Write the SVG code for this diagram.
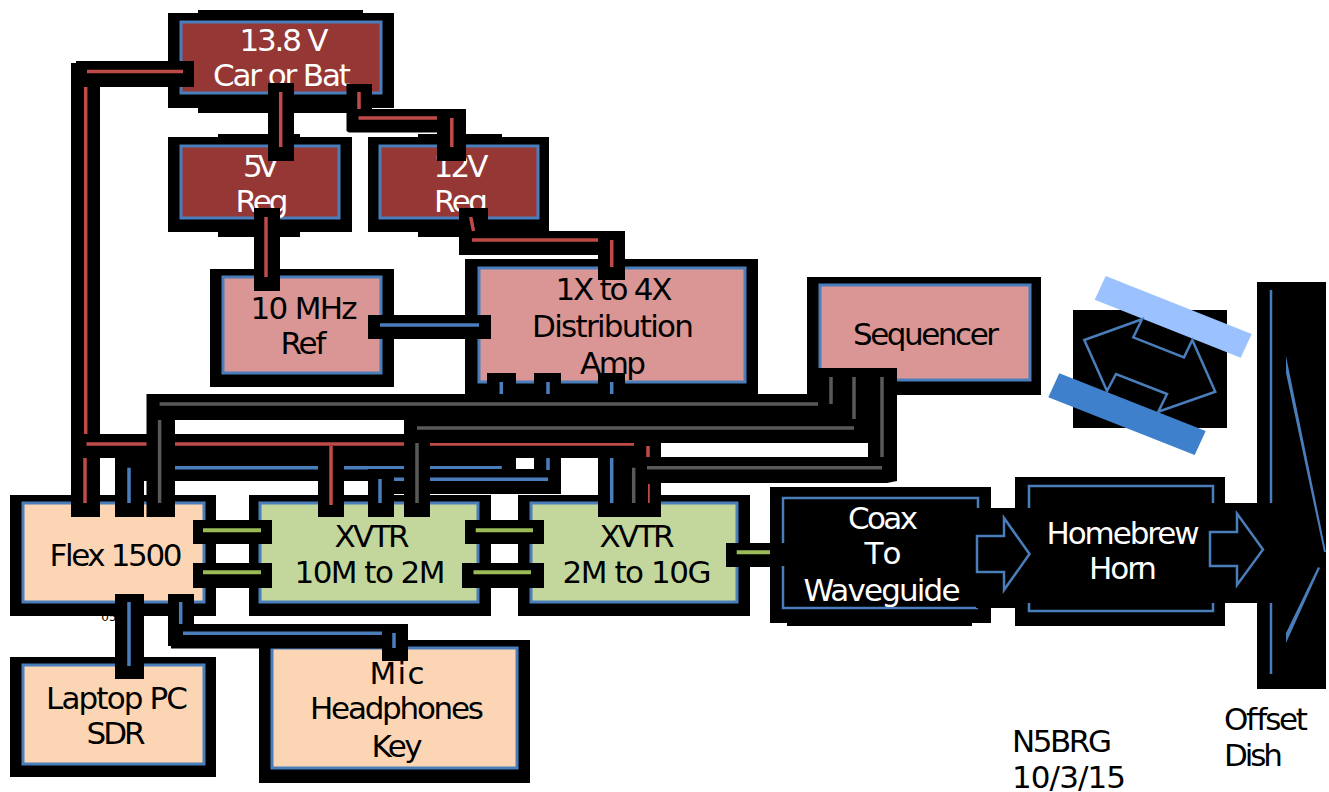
<svg xmlns="http://www.w3.org/2000/svg" width="1329" height="792" viewBox="0 0 1329 792">
<style>
text{font-family:"DejaVu Sans","Liberation Sans",sans-serif;font-size:31px;text-anchor:middle;fill:#000}
.w{fill:#fff}
.l{text-anchor:start}
.tiny{font-size:12px}
.box{stroke:#4a7ebb;stroke-width:3}
.red{fill:#953735}.pink{fill:#d99694}.peach{fill:#fcd5b5}.green{fill:#c3d69b}
.k{fill:#000}
.cr,.cb,.cg,.cy{fill:none;stroke-width:3.500}
.cr{stroke:#be4b48}.cb{stroke:#4a7ebb}.cg{stroke:#595959}.cy{stroke:#9bbb59;stroke-width:4}
.o{fill:none;stroke:#4a7ebb;stroke-width:2.500}
.f{fill:#4a7ebb}
</style>
<rect width="1329" height="792" fill="#fff"/>
<text class="tiny" x="109" y="621">05</text>
<g id="node-13v8"><rect class="k" x="168" y="13" width="226" height="95"/><rect class="k" x="198" y="10" width="165" height="103"/><rect class="box red" x="181" y="22" width="200" height="71"/><text class="w" x="284" y="51" textLength="89">13.8 V</text><text class="w" x="282" y="85.500" textLength="138">Car or Bat</text></g>
<g id="node-5v"><rect class="k" x="168" y="137" width="184" height="95"/><rect class="k" x="218" y="134" width="82" height="103"/><rect class="box red" x="181" y="146" width="158" height="72"/><text class="w" x="261" y="176.500" textLength="36">5V</text><text class="w" x="262" y="211.500" textLength="53">Reg</text></g>
<g id="node-12v"><rect class="k" x="368" y="137" width="181" height="95"/><rect class="k" x="418" y="134" width="84" height="103"/><rect class="box red" x="380" y="146" width="158" height="72"/><text class="w" x="461" y="176.500" textLength="55">12V</text><text class="w" x="461" y="211.500" textLength="54">Reg</text></g>
<g id="node-10mhz"><rect class="k" x="210" y="269" width="184" height="118"/><rect class="box pink" x="223" y="277" width="158" height="96"/><text x="304" y="318.500" textLength="107">10 MHz</text><text x="303.500" y="353.500" textLength="46">Ref</text></g>
<g id="node-dist"><rect class="k" x="465" y="259" width="293" height="135"/><rect class="box pink" x="479" y="268" width="266" height="114"/><text x="614" y="299.500" textLength="117">1X to 4X</text><text x="613" y="336.500" textLength="162">Distribution</text><text x="613" y="373.500" textLength="66">Amp</text></g>
<g id="node-seq"><rect class="k" x="807" y="277" width="234" height="118"/><rect class="box pink" x="820" y="285" width="210" height="95"/><text x="926" y="344.500" textLength="146">Sequencer</text></g>
<g id="node-flex"><rect class="k" x="10" y="495" width="206" height="121"/><rect class="box peach" x="23" y="503" width="181" height="99"/><text x="116" y="565.500" textLength="133">Flex 1500</text></g>
<g id="node-xvtr1"><rect class="k" x="249" y="495" width="242" height="121"/><rect class="box green" x="260" y="503" width="218" height="99"/><text x="372" y="546.500" textLength="75">XVTR</text><text x="370" y="582.500" textLength="151">10M to 2M</text></g>
<g id="node-xvtr2"><rect class="k" x="518" y="495" width="232" height="121"/><rect class="box green" x="531" y="503" width="206" height="99"/><text x="637" y="546.500" textLength="75">XVTR</text><text x="637" y="582.500" textLength="149">2M to 10G</text></g>
<g id="node-laptop"><rect class="k" x="10" y="657" width="206" height="120"/><rect class="box peach" x="23" y="665" width="181" height="99"/><text x="117" y="708.500" textLength="142">Laptop PC</text><text x="116" y="743.500" textLength="59">SDR</text></g>
<g id="node-mic"><rect class="k" x="259" y="640" width="271" height="143"/><rect class="box peach" x="272" y="648" width="245" height="120"/><text x="397" y="683.500" textLength="55">Mic</text><text x="397" y="719" textLength="174">Headphones</text><text x="397" y="757" textLength="51">Key</text></g>
<g id="connectors">
<path class="k" d="M76,61H194V87H100V517H71V63H76Z"/>
<path class="cr" d="M87,71.500H183M85.700,87V434M85,458V503"/>
<path class="k" d="M268,83H294V161H268Z"/><path class="cr" d="M280.700,92V147"/>
<path class="k" d="M346.500,84H372V109H466V161H437V132.500H349L346.500,131Z"/><path class="cr" d="M359,92V109M358.500,118H437M451.800,118V147"/>
<path class="k" d="M254,208H280V291H254Z"/><path class="cr" d="M266,217V277"/>
<path class="k" d="M459,208H488V231H625V280H598V255H459Z"/><path class="cr" d="M470.700,217L473.500,231M472,240H598M611.700,240V267"/>
<path class="k" d="M368,315H491V339H368Z"/><path class="cb" d="M380,325H479"/>
<path class="k" d="M487,373H516V481H144V517H115V458H487Z"/><path class="cb" d="M501.300,382V394M175,467.700H501.800M129,467.700V503"/>
<path class="k" d="M534,373H561V494H394V517H368V469H534Z"/><path class="cb" d="M548,382V394M548,458V470M394,479.300H548M380,479V503"/>
<path class="k" d="M598,373H625V517H598Z"/><path class="cb" d="M611.700,382V394M611.700,458V503"/>
<path class="k" d="M71,434H661V517H634V458H344V517H318V458H100V434Z"/><path class="cr" d="M86.500,444H634M331,446V505M648,446V457M648,484V503"/>
<path class="k" d="M146.500,394H807V368H897V481L887,483H648V517H620V457H868V443H430V517H404V420H175V517H146.500Z"/>
<path class="cg" d="M159.600,404H818M159.600,420V503M831,377V404M417,428H854M854,377V419M417,443V503M882,377V457M647,467.700H882M633.700,467.700V503"/>
<path class="k" d="M193,520H272V544H193ZM193,563H272V588H193ZM465,520H544V544H465ZM462,563H544V588H462ZM726,543H785V567H726Z"/>
<path class="cy" d="M203,530.300H261M203,572.300H261M475.700,530.300H533M473.500,572.300H531M736.700,552.300H782"/>
<path class="k" d="M115,594H144V679H115Z"/><path class="cb" d="M129,602V666"/>
<path class="k" d="M168,594H194V624H408V661H382V648.500H171V646H168Z"/><path class="cb" d="M180.700,602V624M183,633.300H382M394,633V648"/>
</g>
<g id="node-coax"><rect class="k" x="770" y="487" width="221" height="136"/><rect class="k" x="787" y="487" width="185" height="139"/><path d="M978,508V498H783V543M783,566V608H978" class="o"/><path class="k" d="M976,508H1018V608H976Z"/><text class="w" x="883" y="528.500" textLength="70">Coax</text><text class="w" x="883" y="563.500" textLength="37">To</text><text class="w" x="882" y="600.500" textLength="157">Waveguide</text></g>
<g id="node-horn"><rect class="k" x="1015" y="477" width="210" height="149"/><path class="o" d="M1029,508V486H1213V503M1213,603V611H1029V603"/><path class="k" d="M1206,503H1260V603H1206Z"/><text class="w" x="1123" y="543.500" textLength="153">Homebrew</text><text class="w" x="1123" y="578.500" textLength="68">Horn</text></g>
<g id="node-dish"><rect class="k" x="1257" y="282" width="69" height="407"/><path class="o" d="M1271,290V503M1271,603V674"/><polygon class="f" points="1286,356 1326,552 1324,552 1286,373"/><polygon class="f" points="1286,633 1318,567 1320,568 1286,643"/></g>
<g id="arrow-coax-horn"><path class="o" d="M977,536H1004V518L1029.500,554L1004,590V572H977Z"/></g>
<g id="arrow-horn-dish"><path class="o" d="M1210,532H1237V513.500L1263,549.500L1237,585V566H1210Z"/></g>
<g id="node-sequencer-symbol"><rect class="k" x="1073" y="310" width="154" height="118"/><polygon fill="#9bc2ff" points="1105.700,276 1251.700,334 1240.700,357.700 1094.700,299.700"/><polygon fill="#3f80cd" points="1059.300,373.300 1205.700,431 1194.700,455 1048.300,397.300"/><polygon class="o" points="1142,319.300 1084.300,340 1107,391 1116,374 1167,394 1158.300,411.700 1215.300,391.700 1192.300,340 1184,357.300 1133.300,337.300"/></g>
<g id="labels"><text class="l" x="1012" y="751.500" textLength="100">N5BRG</text><text class="l" x="1012" y="787.500" textLength="114">10/3/15</text><text class="l" x="1224" y="729.500" textLength="84">Offset</text><text class="l" x="1224" y="765.500" textLength="59">Dish</text></g>
</svg>
